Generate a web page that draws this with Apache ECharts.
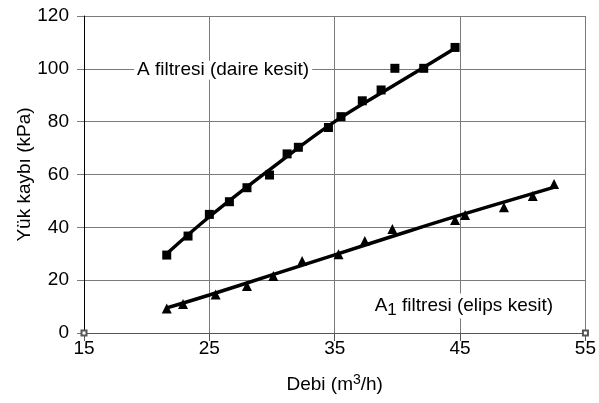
<!DOCTYPE html>
<html>
<head>
<meta charset="utf-8">
<script src="https://cdn.jsdelivr.net/npm/echarts@6/dist/echarts.min.js"></script>
<style>
  html, body { margin: 0; padding: 0; background: #fff; }
  #chart { width: 599px; height: 403px; }
</style>
</head>
<body>
<div id="chart"></div>
<script>
// A filtresi (daire kesit) - measured points
const A_DEBI = [21.6, 23.3, 25.0, 26.6, 28.0, 29.8, 31.2, 32.1, 34.5, 35.5, 37.2, 38.7, 39.8, 42.1, 44.6];
const A_KAYIP = [29.5, 36.7, 44.9, 49.7, 55.0, 59.8, 67.8, 70.3, 77.8, 81.9, 87.9, 92.0, 100.2, 100.2, 108.1];
// trend curve
const A_TREND_DEBI = [21.6, 25, 30, 35, 40, 44.6];
const A_TREND_KAYIP = [30, 44, 62.5, 80, 94.5, 107.8];

// A1 filtresi (elips kesit)
const A1_DEBI = [21.6, 22.9, 25.5, 28.0, 30.1, 32.4, 35.3, 37.4, 39.6, 44.6, 45.4, 48.5, 50.8, 52.5];
const A1_KAYIP = [9.3, 11.0, 14.6, 17.8, 21.6, 27.3, 29.8, 34.8, 39.4, 42.8, 44.7, 47.6, 51.9, 56.4];
const A1_TREND_DEBI = [21.6, 25, 30, 35, 40, 45, 52.6];
const A1_TREND_KAYIP = [9.5, 14.4, 22, 29.6, 37.2, 44.6, 55.3];

const X_TICKS = [15, 25, 35, 45, 55];
const Y_TICKS = [0, 20, 40, 60, 80, 100, 120];

const FONT = 'Liberation Sans';
const zip = (xs, ys) => xs.map((x, i) => [x, ys[i]]);

const chart = echarts.init(document.getElementById('chart'), null, { renderer: 'canvas' });

const labelStyle = {
  show: true,
  position: 'inside',
  color: '#000',
  fontFamily: FONT,
  fontSize: 19,
  backgroundColor: '#fff',
  padding: [0, 3],
};

chart.setOption({
  animation: false,
  grid: { left: 84, right: 11, top: 16, bottom: 70 },
  xAxis: {
    type: 'value',
    min: X_TICKS[0],
    max: X_TICKS[X_TICKS.length - 1],
    interval: 10,
    name: '{n|Debi (m}{s|3}{n|/h)}',
    nameLocation: 'middle',
    nameGap: 40,
    nameMoveOverlap: false,
    nameTextStyle: {
      rich: {
        n: { fontFamily: FONT, fontSize: 19, color: '#000' },
        s: { fontFamily: FONT, fontSize: 14, color: '#000', padding: [0, 0, 9, 0] },
      },
    },
    axisLine: {
      lineStyle: { color: '#555', width: 1 },
      symbol: ['emptyRect', 'emptyRect'],
      symbolSize: [5, 5],
    },
    axisTick: { show: true, inside: false, length: 8, lineStyle: { color: '#555' } },
    axisLabel: { color: '#000', fontFamily: FONT, fontSize: 19, margin: 6 },
    splitLine: { show: true, lineStyle: { color: '#7a7a7a', width: 1 } },
  },
  yAxis: {
    type: 'value',
    min: Y_TICKS[0],
    max: Y_TICKS[Y_TICKS.length - 1],
    interval: 20,
    name: 'Yük kaybı (kPa)',
    nameLocation: 'middle',
    nameGap: 50,
    nameMoveOverlap: false,
    nameTextStyle: { color: '#000', fontFamily: FONT, fontSize: 19 },
    axisLine: { show: true, lineStyle: { color: '#000', width: 1 } },
    axisTick: { show: true, inside: false, length: 7, lineStyle: { color: '#7a7a7a' } },
    axisLabel: { color: '#000', fontFamily: FONT, fontSize: 19, margin: 15 },
    splitLine: { show: true, lineStyle: { color: '#7a7a7a', width: 1 } },
  },
  series: [
    {
      name: 'A trend',
      type: 'line',
      data: zip(A_TREND_DEBI, A_TREND_KAYIP),
      smooth: 0.4,
      showSymbol: false,
      lineStyle: { color: '#000', width: 3.5 },
      z: 3,
      markPoint: {
        symbol: 'circle',
        symbolSize: 0,
        data: [{ coord: [26.1, 99.5], value: 0 }],
        label: { ...labelStyle, formatter: 'A filtresi (daire kesit)' },
      },
    },
    {
      name: 'A filtresi',
      type: 'scatter',
      data: zip(A_DEBI, A_KAYIP),
      symbol: 'rect',
      symbolSize: 9,
      itemStyle: { color: '#000', opacity: 1 },
      z: 4,
    },
    {
      name: 'A1 trend',
      type: 'line',
      data: zip(A1_TREND_DEBI, A1_TREND_KAYIP),
      smooth: 0.4,
      showSymbol: false,
      lineStyle: { color: '#000', width: 3.5 },
      z: 3,
      markPoint: {
        symbol: 'circle',
        symbolSize: 0,
        data: [{ coord: [45.3, 10.2], value: 0 }],
        label: {
          ...labelStyle,
          formatter: '{n|A}{b|1}{n| filtresi (elips kesit)}',
          rich: {
            n: { fontFamily: FONT, fontSize: 19, color: '#000' },
            b: { fontFamily: FONT, fontSize: 17, color: '#000', padding: [8, 0, 0, 0] },
          },
        },
      },
    },
    {
      name: 'A1 filtresi',
      type: 'scatter',
      data: zip(A1_DEBI, A1_KAYIP),
      symbol: 'triangle',
      symbolSize: 10,
      itemStyle: { color: '#000', opacity: 1 },
      z: 4,
    },
  ],
});
</script>
</body>
</html>
